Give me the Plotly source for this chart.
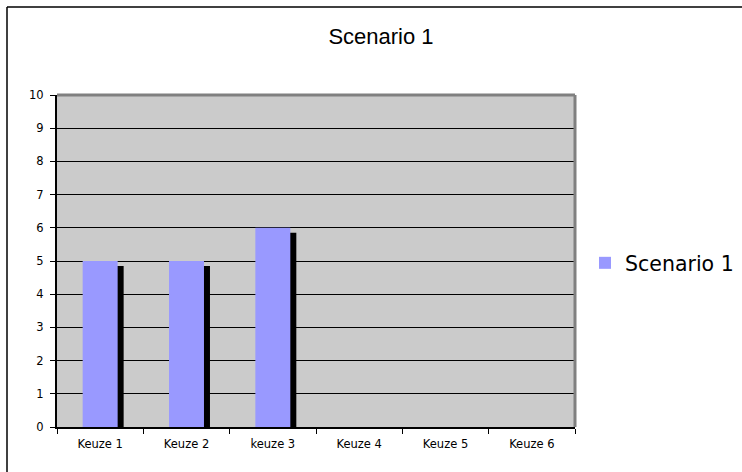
import plotly.graph_objects as go

# Chart data
categories = ["Keuze 1", "Keuze 2", "keuze 3", "Keuze 4", "Keuze 5", "Keuze 6"]
scenario_1 = [5, 5, 6, None, None, None]
y_ticks = list(range(0, 11))

# Figure geometry (pixels)
W, H = 742, 472
L, R, T, B = 57, 167, 95, 45
plot_w = W - L - R
plot_h = H - T - B

bar_width = 0.405          # in category units
shadow_dx = 6 / (plot_w / len(categories))   # shadow shift right, category units
shadow_dy = 5 / (plot_h / 10)                 # shadow drop, data units

shadow_vals = [v - shadow_dy if v is not None else None for v in scenario_1]

fig = go.Figure()

# drop shadow behind each bar
fig.add_trace(go.Bar(
    x=categories, y=shadow_vals,
    width=bar_width, offset=-bar_width / 2 + shadow_dx,
    marker=dict(color="black", line=dict(width=0)),
    showlegend=False, hoverinfo="skip",
))

fig.add_trace(go.Bar(
    x=categories, y=scenario_1, name="Scenario 1",
    width=bar_width, offset=-bar_width / 2,
    marker=dict(color="#9999FF", line=dict(width=0)),
))


def px_x(x):
    return (x - L) / plot_w


def px_y(y):
    return (H - B - y) / plot_h


fig.update_layout(
    width=W, height=H,
    margin=dict(l=L, r=R, t=T, b=B, pad=0, autoexpand=False),
    paper_bgcolor="white",
    plot_bgcolor="#CBCBCB",
    barmode="overlay",
    title=dict(
        text="Scenario 1",
        x=px_x(381), xanchor="center", xref="paper",
        y=1 - 36 / H, yanchor="middle", yref="container",
        font=dict(family="Liberation Sans, Arial, sans-serif", size=22, color="black"),
    ),
    font=dict(family="DejaVu Sans, Verdana, sans-serif", color="black"),
    legend=dict(
        x=px_x(585), xanchor="left",
        y=px_y(263), yanchor="middle",
        font=dict(family="DejaVu Sans, Verdana, sans-serif", size=20.5, color="black"),
        bgcolor="rgba(0,0,0,0)",
        itemwidth=30,
    ),
    xaxis=dict(
        type="category",
        categoryorder="array", categoryarray=categories,
        range=[-0.5, len(categories) - 0.5],
        tickson="boundaries",
        ticks="outside", ticklen=5, tickwidth=1, tickcolor="black",
        ticklabelstandoff=5,
        showline=True, linecolor="black", linewidth=2,
        showgrid=False, zeroline=False,
        tickfont=dict(size=11.5),
    ),
    yaxis=dict(
        range=[0, 10],
        tickmode="array", tickvals=y_ticks,
        ticks="outside", ticklen=5, tickwidth=1, tickcolor="black",
        ticklabelstandoff=4,
        showline=True, linecolor="black", linewidth=2,
        showgrid=True, gridcolor="black", gridwidth=1,
        zeroline=False,
        tickfont=dict(size=11.5),
    ),
    shapes=[
        # top and right frame of the plot area
        dict(type="line", xref="paper", yref="paper", x0=0, x1=1, y0=1, y1=1,
             line=dict(color="#808080", width=3)),
        dict(type="line", xref="paper", yref="paper", x0=1, x1=1, y0=0, y1=1,
             line=dict(color="#808080", width=3)),
        # outer chart border
        dict(type="line", xref="paper", yref="paper",
             x0=px_x(7), x1=px_x(760), y0=px_y(7), y1=px_y(7),
             line=dict(color="black", width=1.5)),
        dict(type="line", xref="paper", yref="paper",
             x0=px_x(7), x1=px_x(7), y0=px_y(7), y1=px_y(490),
             line=dict(color="black", width=1.5)),
    ],
)

fig.write_html("out.html")
